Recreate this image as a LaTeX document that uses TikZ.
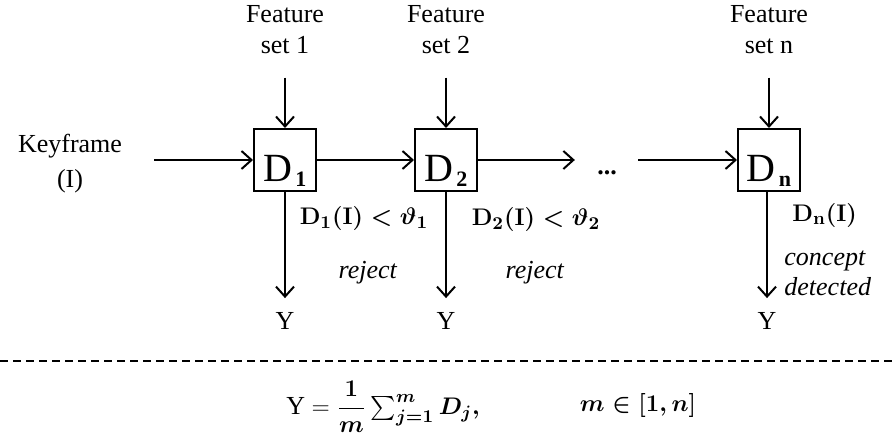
\documentclass[tikz,border=0pt]{standalone}
\usepackage{amsmath}
\usepackage{fontspec}
\setmainfont{Liberation Serif}
\usetikzlibrary{arrows.meta}

% small bold index set next to the D of a detector box
\newcommand{\dsub}[1]{\kern1.5pt\raisebox{-2.5pt}{\fontsize{11}{11}\selectfont\bfseries #1}}
% threshold test of detector #1
\newcommand{\thrtest}[1]{{\boldmath$\mathbf{D}_{#1}(\mathbf{I}) < \vartheta_{#1}$}}
\newcommand{\dnout}{{\boldmath$\mathbf{D}_{\mathbf{n}}(\mathbf{I})$}}
\newcommand{\avgrule}{$\text{Y} = \mbox{\boldmath$\dfrac{1}{m}\sum\nolimits_{j=1}^{m} D_j,$}$}
\newcommand{\mrange}{{\boldmath$m \in [1, n]$}}

\begin{document}
\begin{tikzpicture}[
  x=0.5pt, y=-0.5pt,
  block/.style={
    draw,
    line width=1pt,
    minimum size=31pt,
    inner sep=0pt,
    text height=22pt,
    text depth=0pt,
    font=\fontsize{20}{22}\selectfont
  },
  txt/.style={inner sep=0pt, align=center, font=\fontsize{13}{15.5}\selectfont},
  arrow/.style={-{Straight Barb[length=5pt,width=9pt]}, line width=1pt}
]
\useasboundingbox (0,0) rectangle (893,438);

\node[txt] (fs1) at (285,30) {Feature\\set 1};
\node[txt] (fs2) at (446,30) {Feature\\set 2};
\node[txt] (fsn) at (769,30) {Feature\\set n};

\node[block] (d1) at (285,160) {D\dsub{1}};
\node[block] (d2) at (446,160) {D\dsub{2}};
\node[block] (dn) at (769,160) {D\dsub{n}};

\node[txt] (key) at (70,164) {Keyframe\\[2pt](I)};
\node[txt, font=\fontsize{13}{15.5}\selectfont\bfseries] (dots) at (607,173) {...};

\node[txt] (y1) at (285,321) {Y};
\node[txt] (y2) at (446,321) {Y};
\node[txt] (yn) at (767,321) {Y};

\node[txt] (c1) at (364,219) {\thrtest{1}};
\node[txt] (c2) at (536,220) {\thrtest{2}};
\node[txt, anchor=west] (cn) at (792,215) {\dnout};
\node[txt] (r1) at (368,273) {\textit{reject}};
\node[txt] (r2) at (535,273) {\textit{reject}};
\node[txt, anchor=west, align=left, font=\fontsize{13}{15}\selectfont\itshape] (det) at (784,273) {concept\\detected};

\draw[arrow, shorten <=11.5pt] (fs1) -- (d1);
\draw[arrow, shorten <=11.5pt] (fs2) -- (d2);
\draw[arrow, shorten <=11.5pt] (fsn) -- (dn);

\draw[arrow, shorten <=16pt] (key.east |- d1) -- (d1);
\draw[arrow] (d1) -- (d2);
\draw[arrow, shorten >=11pt] (d2) -- (d2 -| dots.west);
\draw[arrow, shorten <=10.5pt] (dots.east |- dn) -- (dn);

\draw[arrow, shorten >=7pt] (d1) -- (y1);
\draw[arrow, shorten >=7pt] (d2) -- (y2);
\draw[arrow, shorten >=7pt] (dn.south -| yn) -- (yn);

\draw[dash pattern=on 4pt off 2.5pt, line width=0.6pt] (0,361) -- (893,361);

\node[txt] (avg) at (383,407) {\avgrule};
\node[txt] (rng) at (638,405) {\mrange};
\end{tikzpicture}
\end{document}
